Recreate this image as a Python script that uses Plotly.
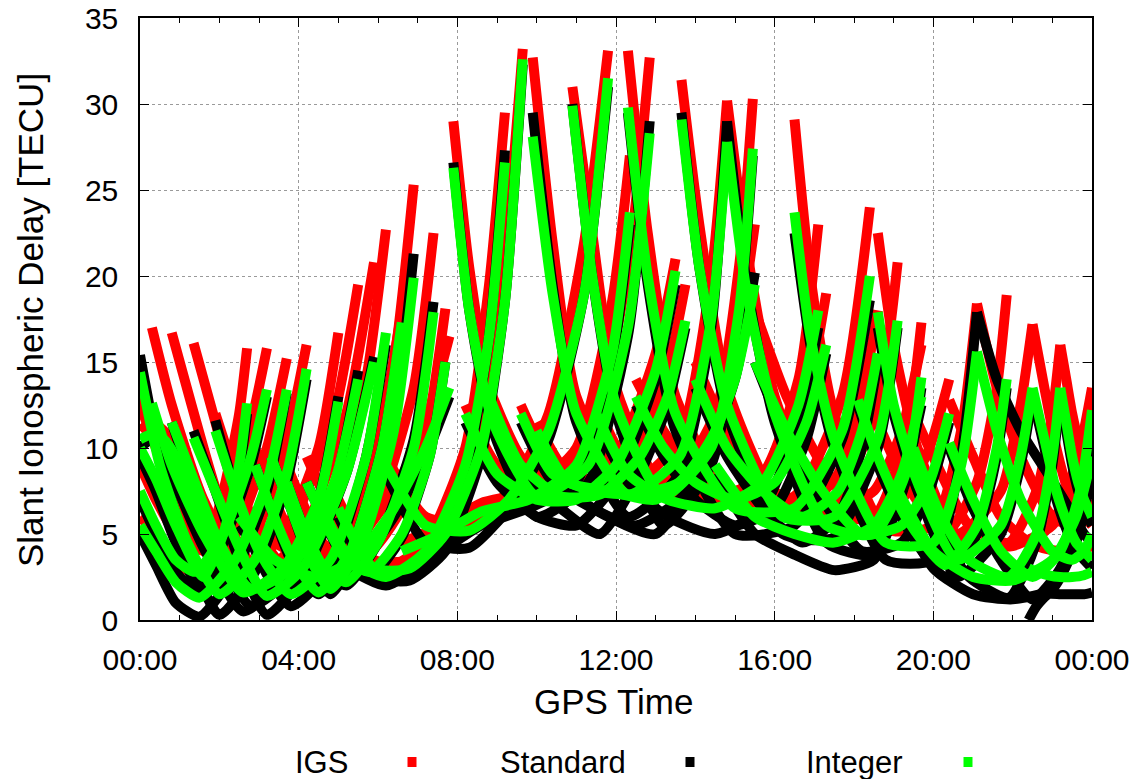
import plotly.graph_objects as go

# ---- data: satellite arcs (GPS time in hours, slant delay in TECU) ----
ARC_TIMES = [
    [0.0, 0.5, 1.2, 2.0, 2.9, 3.7, 4.2],
    [0.3, 0.8, 1.6, 2.6, 3.6, 4.5, 5.0],
    [0.0, 0.4, 0.9, 1.6, 2.1, 2.5, 2.7],
    [0.8, 1.3, 2.0, 2.8, 3.8, 4.9, 5.5],
    [1.35, 1.9, 2.5, 3.2, 4.1, 5.2, 5.9],
    [0.0, 0.4, 0.9, 1.4, 2.1, 2.8, 3.2],
    [0.0, 0.4, 0.9, 1.5, 2.4, 3.2, 3.7],
    [1.9, 2.4, 3.0, 3.8, 4.8, 5.7, 6.2],
    [2.9, 3.3, 3.8, 4.5, 5.3, 6.1, 6.6],
    [3.3, 3.8, 4.3, 4.8, 5.6, 6.4, 6.9],
    [3.7, 4.1, 4.6, 5.2, 6.0, 6.9, 7.4],
    [4.2, 4.7, 5.2, 5.8, 6.6, 7.3, 7.7],
    [4.5, 5.3, 6.2, 7.2, 8.2, 8.8, 9.2],
    [5.0, 5.9, 6.8, 7.7, 8.6, 9.2, 9.65],
    [6.6, 7.6, 8.6, 9.8, 11.0, 11.9, 12.35],
    [7.9, 8.3, 8.9, 10.0, 11.3, 12.3, 12.85],
    [9.9, 10.4, 11.0, 12.3, 13.6, 14.4, 14.8],
    [10.9, 11.4, 12.0, 13.2, 14.4, 15.1, 15.45],
    [6.2, 7.2, 8.3, 9.3, 10.3, 11.2, 11.8],
    [12.3, 12.8, 13.5, 15.0, 16.5, 17.7, 18.4],
    [13.65, 14.1, 14.8, 16.2, 17.5, 18.6, 19.1],
    [14.8, 15.3, 16.0, 17.3, 18.5, 19.3, 19.7],
    [16.5, 16.9, 17.5, 18.8, 20.0, 20.7, 21.1],
    [8.2, 9.0, 10.0, 11.0, 12.0, 13.0, 13.5],
    [8.8, 9.6, 10.6, 11.6, 12.6, 13.3, 13.75],
    [9.6, 10.4, 11.4, 12.5, 13.6, 14.5, 15.1],
    [10.0, 10.8, 11.8, 13.0, 14.2, 15.0, 15.5],
    [11.5, 12.3, 13.3, 14.5, 15.7, 16.6, 17.1],
    [18.6, 19.0, 19.6, 20.6, 21.7, 22.2, 22.5],
    [18.1, 18.6, 19.3, 20.3, 21.1, 21.6, 21.85],
    [19.5, 20.2, 20.9, 21.9, 22.6, 23.0, 23.2],
    [20.4, 21.0, 21.7, 22.5, 23.2, 23.7, 24.0],
    [21.1, 21.6, 22.2, 23.0, 23.5, 23.8, 24.0],
    [22.5, 22.8, 23.1, 23.4, 23.6, 23.8, 24.0],
    [23.2, 23.35, 23.5, 23.65, 23.8, 23.9, 24.0],
    [22.4, 22.6, 22.9, 23.2, 23.5, 23.8, 24.0],
    [19.0, 20.0, 21.0, 22.0, 23.0, 23.6, 24.0],
    [14.5, 15.5, 16.5, 17.5, 18.5, 19.2, 19.7],
    [12.5, 13.2, 14.0, 15.0, 16.0, 16.8, 17.3],
    [14.0, 14.8, 15.7, 16.7, 17.6, 18.2, 18.6],
    [15.5, 16.3, 17.2, 18.2, 19.2, 19.9, 20.4],
    [2.5, 3.4, 4.4, 5.4, 6.4, 7.2, 7.8],
    [0.0, 0.3, 0.6, 0.9, 1.2, 1.6, 2.0],
]

IGS_TEC = [
    [13.0, 10.0, 6.0, 3.0, 5.0, 10.5, 16.0],
    [17.0, 12.5, 7.0, 3.2, 5.0, 10.0, 16.7],
    [12.5, 10.0, 7.0, 4.0, 7.5, 12.0, 15.8],
    [16.7, 12.5, 7.0, 3.4, 5.5, 12.0, 19.5],
    [16.1, 11.5, 6.5, 3.0, 5.0, 12.0, 20.8],
    [9.0, 7.0, 5.0, 4.0, 6.5, 11.5, 15.8],
    [6.0, 5.0, 3.5, 2.5, 5.0, 10.0, 15.2],
    [12.0, 8.5, 5.0, 2.8, 6.0, 14.0, 22.7],
    [10.0, 7.5, 5.0, 3.0, 5.5, 11.5, 18.0],
    [11.0, 8.0, 5.0, 3.2, 7.0, 15.0, 25.3],
    [9.0, 6.8, 4.5, 3.5, 6.5, 13.5, 22.5],
    [9.5, 7.0, 5.0, 4.0, 6.5, 12.0, 18.1],
    [7.5, 4.0, 3.0, 4.5, 10.0, 19.5, 29.5],
    [7.0, 3.5, 3.5, 5.5, 11.0, 21.0, 33.2],
    [4.5, 5.5, 6.8, 7.5, 10.0, 18.5, 27.0],
    [29.0, 20.5, 12.5, 7.7, 10.0, 20.5, 32.7],
    [32.7, 22.0, 13.0, 7.8, 10.5, 20.0, 30.2],
    [31.0, 22.5, 13.5, 7.7, 11.0, 20.5, 30.3],
    [9.5, 6.0, 5.7, 7.5, 12.0, 22.0, 33.1],
    [33.1, 22.5, 13.0, 7.0, 7.2, 13.0, 24.0],
    [31.4, 23.0, 13.5, 6.6, 6.8, 12.5, 20.8],
    [30.2, 21.5, 13.0, 6.2, 6.0, 10.5, 17.3],
    [29.1, 20.0, 12.0, 5.3, 5.5, 11.0, 18.4],
    [12.5, 9.0, 7.5, 7.5, 9.5, 15.5, 21.0],
    [13.5, 9.5, 7.7, 7.8, 10.0, 14.5, 19.5],
    [12.5, 9.0, 8.0, 7.8, 8.5, 12.0, 18.5],
    [11.5, 8.5, 8.0, 7.5, 10.0, 15.5, 23.0],
    [12.5, 9.0, 7.5, 7.0, 8.5, 14.0, 23.0],
    [22.5, 16.0, 10.0, 5.0, 7.5, 12.5, 17.2],
    [15.0, 11.5, 8.0, 5.0, 8.0, 13.5, 18.9],
    [12.0, 8.5, 5.5, 4.5, 7.5, 12.0, 16.0],
    [12.8, 9.5, 6.0, 4.5, 6.5, 10.0, 13.5],
    [18.4, 13.5, 9.5, 6.0, 5.5, 6.0, 7.0],
    [17.2, 13.5, 10.0, 7.5, 6.5, 6.0, 5.5],
    [16.0, 14.0, 12.0, 10.5, 9.5, 9.0, 8.5],
    [4.5, 4.3, 4.1, 4.0, 4.0, 4.1, 4.3],
    [10.0, 6.0, 4.5, 4.3, 5.5, 8.0, 11.5],
    [11.0, 8.0, 7.0, 6.5, 7.5, 11.0, 16.0],
    [14.0, 11.0, 8.5, 7.5, 9.0, 13.0, 19.0],
    [15.0, 11.0, 8.0, 6.5, 8.5, 13.0, 18.0],
    [18.0, 13.0, 9.0, 6.0, 7.0, 10.0, 14.0],
    [7.0, 4.5, 3.5, 4.5, 7.5, 11.5, 16.5],
    [11.0, 11.5, 11.0, 10.0, 8.5, 6.5, 5.0],
]

STANDARD_TEC = [
    [15.4, 9.5, 4.0, 0.3, 2.8, 8.0, 14.0],
    [12.0, 8.5, 4.2, 0.5, 2.4, 7.0, 13.0],
    [9.5, 7.5, 4.5, 1.5, 4.5, 8.5, 12.0],
    [11.5, 8.0, 3.8, 0.8, 2.5, 7.8, 14.5],
    [11.0, 7.5, 3.5, 0.3, 2.5, 8.5, 15.3],
    [7.0, 5.0, 2.8, 1.8, 4.5, 9.0, 13.0],
    [5.0, 3.2, 1.0, 0.2, 2.8, 7.5, 13.2],
    [11.6, 7.5, 3.5, 0.8, 3.0, 9.5, 16.0],
    [9.0, 6.5, 3.5, 1.5, 4.0, 10.0, 17.0],
    [9.5, 6.5, 3.3, 1.5, 4.5, 11.5, 21.3],
    [8.0, 5.5, 3.0, 2.0, 4.5, 10.5, 18.5],
    [8.0, 5.5, 3.3, 2.5, 4.8, 9.5, 15.0],
    [6.5, 3.0, 2.0, 3.5, 8.5, 16.5, 27.3],
    [6.0, 2.5, 2.3, 4.0, 9.5, 18.5, 32.3],
    [2.3, 4.0, 5.5, 6.5, 8.0, 15.0, 23.0],
    [26.6, 18.0, 11.0, 6.0, 8.0, 16.5, 29.0],
    [29.5, 19.5, 11.5, 6.0, 8.5, 17.0, 29.0],
    [30.0, 20.0, 12.0, 5.5, 9.0, 17.5, 27.0],
    [8.5, 4.5, 4.2, 6.5, 10.5, 19.0, 31.0],
    [29.5, 19.5, 11.0, 5.0, 5.5, 10.5, 18.6],
    [29.5, 20.5, 12.0, 5.0, 4.8, 10.0, 17.0],
    [29.0, 19.5, 11.5, 4.5, 3.8, 8.0, 13.5],
    [22.5, 16.0, 10.0, 3.5, 3.5, 9.5, 17.9],
    [11.5, 8.0, 6.0, 5.5, 8.0, 14.0, 19.5],
    [12.5, 8.5, 6.5, 5.0, 8.5, 12.5, 17.0],
    [11.5, 8.0, 6.5, 5.5, 7.0, 10.5, 15.0],
    [10.5, 7.5, 6.0, 5.0, 9.0, 14.0, 20.2],
    [11.5, 8.0, 6.0, 5.0, 6.5, 11.5, 17.0],
    [17.0, 12.0, 7.5, 2.5, 5.0, 9.0, 13.0],
    [12.5, 9.0, 5.5, 2.5, 5.0, 9.5, 13.5],
    [9.5, 5.0, 2.5, 1.3, 4.5, 9.0, 13.0],
    [10.0, 6.5, 3.5, 1.2, 3.0, 6.5, 11.0],
    [17.9, 14.0, 11.0, 8.1, 6.2, 5.0, 4.5],
    [13.0, 10.0, 7.0, 5.0, 4.0, 3.5, 3.0],
    [13.0, 11.0, 9.0, 7.5, 6.5, 6.0, 5.5],
    [0.0, 0.8, 1.5, 1.5, 1.5, 1.5, 1.6],
    [7.5, 3.0, 1.5, 1.2, 1.8, 4.5, 8.5],
    [8.5, 5.0, 3.8, 2.9, 3.5, 7.5, 12.5],
    [12.5, 9.5, 7.0, 5.5, 6.5, 10.5, 15.5],
    [13.5, 9.5, 6.5, 4.5, 6.0, 10.0, 15.0],
    [15.0, 10.5, 7.0, 4.0, 4.5, 7.5, 11.5],
    [5.5, 3.0, 2.0, 3.0, 6.0, 9.5, 13.0],
    [10.0, 10.5, 10.0, 9.0, 7.5, 5.5, 4.0],
]

INTEGER_TEC = [
    [14.4, 9.0, 4.5, 1.5, 3.5, 8.5, 14.6],
    [12.6, 9.0, 5.0, 1.6, 3.0, 7.0, 12.7],
    [10.0, 8.2, 5.5, 2.5, 5.0, 9.0, 12.6],
    [11.5, 8.5, 4.5, 1.8, 3.0, 8.0, 14.0],
    [10.6, 7.5, 4.2, 1.4, 3.0, 8.5, 15.0],
    [7.5, 5.5, 3.5, 2.8, 5.0, 9.5, 13.4],
    [5.5, 4.0, 2.2, 1.3, 3.5, 8.0, 13.4],
    [11.0, 7.5, 4.0, 1.5, 3.5, 9.5, 16.7],
    [9.0, 6.5, 3.8, 1.6, 4.0, 10.0, 17.3],
    [9.5, 6.5, 3.5, 1.8, 4.5, 11.0, 19.9],
    [8.0, 5.5, 3.2, 2.2, 4.5, 10.0, 17.9],
    [8.0, 5.5, 3.5, 2.8, 5.0, 9.5, 15.0],
    [7.0, 3.5, 2.5, 4.0, 9.0, 16.5, 26.6],
    [6.5, 3.0, 3.0, 5.0, 10.0, 18.5, 32.6],
    [4.0, 5.0, 6.3, 7.0, 9.0, 15.5, 23.7],
    [26.3, 18.0, 11.5, 7.2, 9.0, 17.0, 28.3],
    [28.1, 19.0, 12.0, 7.3, 9.5, 17.5, 27.8],
    [29.9, 20.0, 12.5, 7.2, 10.0, 18.0, 27.4],
    [9.0, 5.5, 5.2, 7.0, 11.0, 19.0, 31.5],
    [29.8, 20.0, 12.0, 6.5, 6.5, 11.0, 20.0],
    [29.1, 20.5, 12.5, 6.0, 6.0, 10.5, 17.4],
    [27.8, 19.0, 12.0, 5.5, 5.0, 8.5, 14.1],
    [23.7, 16.5, 10.5, 4.5, 4.5, 9.0, 15.6],
    [12.0, 8.5, 7.0, 7.0, 9.0, 14.5, 20.3],
    [13.0, 9.0, 7.2, 7.3, 9.5, 13.0, 17.4],
    [12.0, 8.5, 7.5, 7.3, 8.0, 11.0, 15.9],
    [11.0, 8.0, 7.5, 7.0, 9.5, 14.0, 19.5],
    [12.0, 8.5, 7.0, 6.5, 8.0, 12.5, 18.0],
    [17.9, 12.5, 8.0, 3.5, 5.5, 9.5, 13.5],
    [12.8, 9.5, 6.0, 3.2, 5.5, 10.0, 14.0],
    [10.0, 6.0, 3.5, 2.5, 5.0, 9.5, 13.5],
    [10.3, 7.0, 4.0, 2.5, 4.0, 7.5, 12.2],
    [15.6, 11.0, 7.0, 4.0, 3.5, 4.0, 5.0],
    [13.5, 10.5, 7.5, 5.5, 4.5, 4.0, 3.5],
    [13.5, 11.5, 9.5, 8.0, 7.0, 6.5, 6.0],
    [3.0, 2.8, 2.6, 2.5, 2.5, 2.6, 2.8],
    [8.0, 4.0, 2.5, 2.3, 3.5, 6.0, 9.5],
    [9.0, 6.0, 5.0, 4.5, 5.5, 8.5, 13.0],
    [13.0, 10.0, 8.0, 7.0, 8.0, 11.5, 16.0],
    [14.0, 10.0, 7.5, 6.0, 7.5, 11.0, 15.5],
    [15.0, 11.0, 7.5, 5.0, 5.5, 8.0, 12.0],
    [6.0, 3.5, 2.5, 3.5, 6.5, 10.0, 13.5],
    [10.5, 10.8, 10.5, 9.5, 8.0, 6.0, 4.5],
]

SERIES_NAMES = ["IGS", "Standard", "Integer"]
SERIES_COLORS = ["#ff0000", "#000000", "#00ff00"]
X_TICK_VALUES = [0, 4, 8, 12, 16, 20, 24]
X_TICK_LABELS = ["00:00", "04:00", "08:00", "12:00", "16:00", "20:00", "00:00"]
Y_TICK_VALUES = [0, 5, 10, 15, 20, 25, 30, 35]

FONT = "Liberation Sans, Arial, Helvetica, sans-serif"


def joined(times, values):
    xs, ys = [], []
    for t, v in zip(times, values):
        xs.extend(t)
        ys.extend(v)
        xs.append(None)
        ys.append(None)
    return xs, ys


fig = go.Figure()
for name, color, vals in zip(SERIES_NAMES, SERIES_COLORS,
                             [IGS_TEC, STANDARD_TEC, INTEGER_TEC]):
    xs, ys = joined(ARC_TIMES, vals)
    fig.add_trace(go.Scatter(
        x=xs, y=ys, mode="lines", name=name,
        line=dict(color=color, width=10, shape="spline", smoothing=0.6),
        connectgaps=False, showlegend=False, hoverinfo="skip",
    ))

W, H = 1137, 779
L, R, T, B = 140, 45, 18, 159
pw, ph = W - L - R, H - T - B


def px_to_paper_x(px):
    return (px - L) / pw


def px_to_paper_y(py):
    return (H - B - py) / ph


fig.update_layout(
    width=W, height=H,
    margin=dict(l=L, r=R, t=T, b=B, autoexpand=False),
    paper_bgcolor="white", plot_bgcolor="white",
    font=dict(family=FONT, size=30, color="black"),
    showlegend=False,
)
fig.update_xaxes(
    range=[0, 24], tickvals=X_TICK_VALUES, ticktext=X_TICK_LABELS,
    ticks="inside", ticklen=9, tickwidth=1, tickcolor="black",
    minor=dict(dtick=1, tick0=0, ticks="inside", ticklen=5, tickcolor="black", showgrid=False),
    showline=True, linecolor="black", linewidth=1.5, mirror="ticks",
    showgrid=True, gridcolor="#9a9a9a", griddash="dot", gridwidth=1,
    zeroline=False, tickfont=dict(size=30), ticklabelstandoff=12,
    automargin=False,
)
fig.update_yaxes(
    range=[0, 35], tickvals=Y_TICK_VALUES,
    ticks="inside", ticklen=9, tickwidth=1, tickcolor="black",
    showline=True, linecolor="black", linewidth=1.5, mirror="ticks",
    showgrid=True, gridcolor="#9a9a9a", griddash="dot", gridwidth=1,
    zeroline=False, tickfont=dict(size=30), ticklabelstandoff=14,
    automargin=False,
)

# axis titles
fig.add_annotation(text="GPS Time", xref="paper", yref="paper",
                   x=px_to_paper_x(613), y=px_to_paper_y(701),
                   showarrow=False, font=dict(size=35),
                   xanchor="center", yanchor="middle")
fig.add_annotation(text="Slant Ionospheric Delay [TECU]", xref="paper", yref="paper",
                   x=px_to_paper_x(30), y=px_to_paper_y(320), textangle=-90,
                   showarrow=False, font=dict(size=35),
                   xanchor="center", yanchor="middle")

# gnuplot-style legend: text then sample square
LEGEND_TEXT_RIGHT = [350, 628, 905]
LEGEND_SAMPLE_X = [412, 690, 968]
LEGEND_Y = 762
for name, color, tx, sx in zip(SERIES_NAMES, SERIES_COLORS, LEGEND_TEXT_RIGHT, LEGEND_SAMPLE_X):
    fig.add_annotation(text=name, xref="paper", yref="paper",
                       x=px_to_paper_x(tx), y=px_to_paper_y(LEGEND_Y),
                       showarrow=False, font=dict(size=31),
                       xanchor="right", yanchor="middle")
    fig.add_shape(type="rect", xref="paper", yref="paper",
                  x0=px_to_paper_x(sx - 4.5), x1=px_to_paper_x(sx + 4.5),
                  y0=px_to_paper_y(LEGEND_Y + 5), y1=px_to_paper_y(LEGEND_Y - 5),
                  fillcolor=color, line=dict(width=0))

fig.write_html("out.html")
